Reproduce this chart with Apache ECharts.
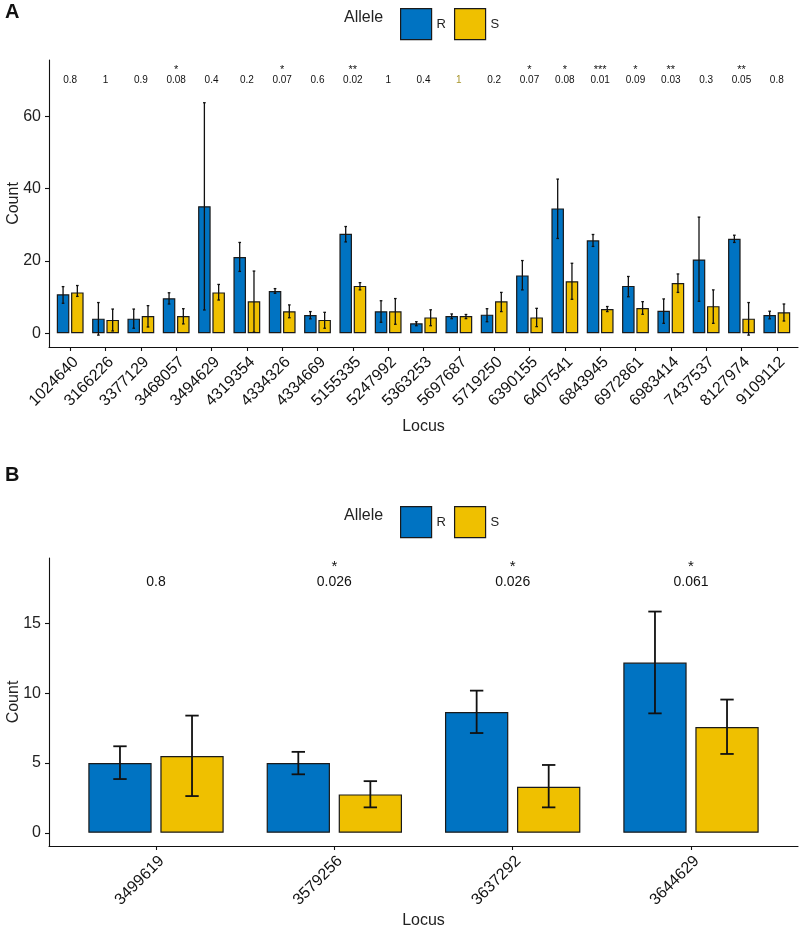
<!DOCTYPE html>
<html>
<head>
<meta charset="utf-8">
<script src="https://cdn.jsdelivr.net/npm/echarts@6/dist/echarts.min.js"></script>
<style>
  html, body { margin: 0; padding: 0; background: #fff; }
  #chart { width: 800px; height: 931px; }
</style>
</head>
<body>
<div id="chart"></div>
<script>
// panel A data
const lociA = ['1024640', '3166226', '3377129', '3468057', '3494629', '4319354', '4334326', '4334669', '5155335', '5247992', '5363253', '5697687', '5719250', '6390155', '6407541', '6843945', '6972861', '6983414', '7437537', '8127974', '9109112']
const meanRA = [10.8, 4.05, 4.05, 9.7, 35.1, 21.1, 11.7, 5.07, 27.5, 6.1, 2.76, 4.8, 5.16, 16.0, 34.5, 25.7, 13.1, 6.2, 20.4, 26.1, 5.07]
const lowRA = [8.3, -0.5, 1.4, 8.1, 6.45, 17.1, 11.05, 4.0, 25.25, 3.05, 2.1, 4.05, 3.2, 12.0, 26.2, 24.0, 10.1, 2.76, 8.85, 25.1, 4.0]
const highRA = [12.9, 8.5, 6.7, 11.2, 63.7, 25.1, 12.35, 6.0, 29.5, 9.0, 3.2, 5.35, 6.8, 20.1, 42.6, 27.3, 15.7, 9.5, 32.1, 27.1, 6.1]
const meanSA = [11.3, 3.7, 4.8, 4.8, 11.3, 8.85, 6.1, 3.7, 13.1, 6.1, 4.4, 4.8, 8.85, 4.4, 14.4, 6.7, 7.0, 13.9, 7.5, 4.05, 5.8]
const lowSA = [10.2, 0.65, 1.75, 2.6, 9.2, 0.3, 4.3, 1.4, 12.0, 2.5, 2.1, 4.05, 6.0, 1.85, 9.4, 6.0, 5.25, 11.3, 2.76, -0.5, 3.4]
const highSA = [13.2, 6.7, 7.65, 6.8, 13.5, 17.2, 7.85, 5.8, 14.0, 9.6, 6.5, 5.2, 11.3, 6.9, 19.35, 7.4, 8.75, 16.4, 12.0, 8.5, 8.1]
const pA = ['0.8', '1', '0.9', '0.08', '0.4', '0.2', '0.07', '0.6', '0.02', '1', '0.4', '1', '0.2', '0.07', '0.08', '0.01', '0.09', '0.03', '0.3', '0.05', '0.8']
const starsA = ['', '', '', '*', '', '', '*', '', '**', '', '', '', '', '*', '*', '***', '*', '**', '', '**', '']
const ticksA = [0, 20, 40, 60]

// panel B data
const lociB = ['3499619', '3579256', '3637292', '3644629']
const meanRB = [5.0, 5.0, 8.66, 12.2]
const lowRB = [3.85, 4.19, 7.15, 8.56]
const highRB = [6.2, 5.8, 10.19, 15.86]
const meanSB = [5.5, 2.75, 3.3, 7.58]
const lowSB = [2.63, 1.82, 1.82, 5.65]
const highSB = [8.4, 3.7, 4.86, 9.55]
const pB = ['0.8', '0.026', '0.026', '0.061']
const starsB = ['', '*', '*', '*']
const ticksB = [0, 5, 10, 15]

const BLUE = '#0073C2'
const GOLD = '#EFC000'
const FONT = 'Liberation Sans, Arial, sans-serif'
const BAR_W = 0.355 // fraction of one locus band
const GAP = 0.049
const OFFSET = (BAR_W + GAP) / 2
const CAP = 0.075

const chart = echarts.init(document.getElementById('chart'))

// mean bars on a numeric x axis so the band is 1 unit
const toXY = arr => arr.map((v, i) => [i, v])
const toErr = (lo, hi) => lo.map((v, i) => [i, v, hi[i]])

// error bar drawn on top of each dodged bar
function errorBar (side, lineW) {
  return function (params, api) {
    const i = api.value(0)
    const band = api.size([1, 0])[0]
    const cx = api.coord([i, 0])[0] + side * OFFSET * band
    const y1 = api.coord([i, api.value(1)])[1]
    const y2 = api.coord([i, api.value(2)])[1]
    const half = CAP * band / 2
    const st = { stroke: '#111', lineWidth: lineW }
    return {
      type: 'group',
      children: [
        { type: 'line', shape: { x1: cx, y1: y1, x2: cx, y2: y2 }, style: st },
        { type: 'line', shape: { x1: cx - half, y1: y1, x2: cx + half, y2: y1 }, style: st },
        { type: 'line', shape: { x1: cx - half, y1: y2, x2: cx + half, y2: y2 }, style: st }
      ]
    }
  }
}

// p-values and stars over each locus
function pLabels (pArr, starArr, size, starGap) {
  return function (params, api) {
    const i = api.value(0)
    const pt = api.coord([i, api.value(1)])
    const col = (pArr === pA && i === 11) ? '#a8952c' : '#111'
    return {
      type: 'group',
      children: [
        { type: 'text', x: pt[0], y: pt[1], style: { text: pArr[i], fill: col, fontSize: size, fontFamily: FONT, align: 'center', verticalAlign: 'middle' } },
        { type: 'text', x: pt[0], y: pt[1] - starGap, style: { text: starArr[i], fill: '#111', fontSize: size + 1, fontFamily: FONT, align: 'center', verticalAlign: 'middle' } }
      ]
    }
  }
}

const axisLine = { show: true, onZero: false, lineStyle: { color: '#111', width: 1.1 } }
const axisTick = (vals) => ({ show: true, length: 4, customValues: vals, lineStyle: { color: '#111', width: 1.1 } })

function xAxisFor (gridIndex, loci, gap) {
  const idx = loci.map((d, i) => i)
  return {
    type: 'value',
    gridIndex: gridIndex,
    min: -0.6,
    max: loci.length - 0.4,
    name: 'Locus',
    nameLocation: 'middle',
    nameGap: gap,
    nameMoveOverlap: false,
    nameTextStyle: { color: '#222', fontSize: 16, fontFamily: FONT },
    splitLine: { show: false },
    axisLine: axisLine,
    axisTick: axisTick(idx),
    axisLabel: {
      customValues: idx,
      rotate: 45,
      margin: 7,
      verticalAlign: 'top',
      color: '#111',
      fontSize: 16,
      fontFamily: FONT,
      formatter: v => loci[v]
    }
  }
}

function yAxisFor (gridIndex, min, max, ticks) {
  return {
    type: 'value',
    gridIndex: gridIndex,
    min: min,
    max: max,
    name: 'Count',
    nameLocation: 'middle',
    nameGap: 27,
    nameMoveOverlap: false,
    nameTextStyle: { color: '#222', fontSize: 16, fontFamily: FONT },
    splitLine: { show: false },
    axisLine: axisLine,
    axisTick: axisTick(ticks),
    axisLabel: { customValues: ticks, margin: 8, color: '#222', fontSize: 16, fontFamily: FONT }
  }
}

function barSeries (name, axis, data, color) {
  return {
    name: name,
    type: 'bar',
    xAxisIndex: axis,
    yAxisIndex: axis,
    data: data,
    barWidth: (BAR_W * 100) + '%',
    barGap: (GAP / BAR_W * 100).toFixed(1) + '%',
    itemStyle: { color: color, borderColor: '#1a1a1a', borderWidth: 1.2 },
    emphasis: { disabled: true },
    z: 2
  }
}

function errSeries (name, axis, data, side, lineW) {
  return {
    name: name,
    type: 'custom',
    xAxisIndex: axis,
    yAxisIndex: axis,
    data: data,
    renderItem: errorBar(side, lineW),
    z: 5,
    silent: true
  }
}

const legendBase = {
  data: ['R', 'S'],
  icon: 'rect',
  left: 395,
  itemWidth: 31,
  itemHeight: 31,
  itemGap: 8,
  selectedMode: false,
  itemStyle: { borderColor: '#1a1a1a', borderWidth: 1.2 },
  textStyle: { color: '#222', fontSize: 13, fontFamily: FONT }
}

const titleStyle = { color: '#222', fontSize: 16, fontFamily: FONT, fontWeight: 'normal' }

const options = {
  animation: false,
  title: [
    { text: 'A', left: 5, top: 2, padding: 0, textStyle: { fontSize: 20, fontWeight: 'bold', color: '#111', fontFamily: FONT } },
    { text: 'B', left: 5, top: 465, padding: 0, textStyle: { fontSize: 20, fontWeight: 'bold', color: '#111', fontFamily: FONT } },
    { text: 'Allele', left: 344, top: 10, padding: 0, textStyle: titleStyle },
    { text: 'Allele', left: 344, top: 508, padding: 0, textStyle: titleStyle }
  ],
  legend: [
    Object.assign({}, legendBase, { top: 3 }),
    Object.assign({}, legendBase, { top: 501 })
  ],
  grid: [
    { left: 49, right: 2, top: 60, bottom: 584, containLabel: false, outerBoundsMode: 'none' },
    { left: 49, right: 2, top: 558, bottom: 85, containLabel: false, outerBoundsMode: 'none' }
  ],
  xAxis: [xAxisFor(0, lociA, 72), xAxisFor(1, lociB, 67)],
  yAxis: [yAxisFor(0, -3.78, 75.5, ticksA), yAxisFor(1, -0.95, 19.7, ticksB)],
  series: [
    barSeries('R', 0, toXY(meanRA), BLUE),
    barSeries('S', 0, toXY(meanSA), GOLD),
    errSeries('errRA', 0, toErr(lowRA, highRA), -1, 1.3),
    errSeries('errSA', 0, toErr(lowSA, highSA), 1, 1.3),
    {
      name: 'pA', type: 'custom', xAxisIndex: 0, yAxisIndex: 0,
      data: pA.map((p, i) => [i, 70]),
      renderItem: pLabels(pA, starsA, 10, 10), silent: true, z: 6
    },
    barSeries('R', 1, toXY(meanRB), BLUE),
    barSeries('S', 1, toXY(meanSB), GOLD),
    errSeries('errRB', 1, toErr(lowRB, highRB), -1, 1.8),
    errSeries('errSB', 1, toErr(lowSB, highSB), 1, 1.8),
    {
      name: 'pB', type: 'custom', xAxisIndex: 1, yAxisIndex: 1,
      data: pB.map((p, i) => [i, 18]),
      renderItem: pLabels(pB, starsB, 14, 15), silent: true, z: 6
    }
  ]
}

chart.setOption(options)
</script>
</body>
</html>
